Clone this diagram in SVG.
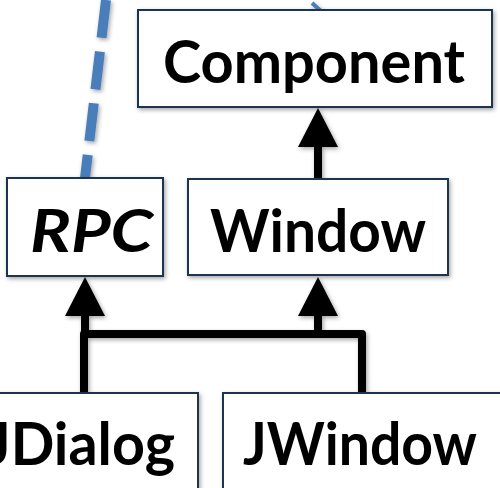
<svg xmlns="http://www.w3.org/2000/svg" width="500" height="488" viewBox="0 0 500 488">
<style>
.box{fill:#fff;stroke:#1f3550;stroke-width:2}
.lbl{font-family:Lato,"DejaVu Sans",sans-serif;font-size:60px;font-weight:bold;fill:#000}
.conn{fill:none;stroke:#000;stroke-width:8;stroke-linejoin:round}
.head{fill:#000}
.dash{fill:none;stroke:#4a7ebb;stroke-width:10}
</style>
<defs>
<filter id="sh" x="-10%" y="-10%" width="130%" height="130%">
<feDropShadow dx="1.5" dy="2" stdDeviation="2" flood-color="#000" flood-opacity="0.35"/>
</filter>
</defs>
<g id="connectors" filter="url(#sh)">
<path class="dash" d="M106,0 L85,178" stroke-dasharray="38,14"/>
<line x1="312" y1="3" x2="322" y2="12" stroke="#4a7ebb" stroke-width="4"/>
<path class="conn" d="M318,179 V145"/>
<polygon class="head" points="318,108 298,147 338,147"/>
<path class="conn" d="M84,392 V334 H362 V392"/>
<path class="conn" d="M85,334 V314"/>
<path class="conn" d="M318,334 V314"/>
<polygon class="head" points="85,277 65,316 105,316"/>
<polygon class="head" points="318,277 298,316 338,316"/>
</g>
<g id="component" filter="url(#sh)">
<rect class="box" x="138" y="10" width="354" height="97"/>
<text class="lbl" x="163" y="83" textLength="302" lengthAdjust="spacingAndGlyphs">Component</text>
</g>
<g id="rpc" filter="url(#sh)">
<rect class="box" x="7" y="178" width="156" height="98"/>
<text class="lbl" x="30" y="252" font-style="italic" textLength="123" lengthAdjust="spacingAndGlyphs">RPC</text>
</g>
<g id="window" filter="url(#sh)">
<rect class="box" x="188" y="179" width="260" height="96"/>
<text class="lbl" x="210" y="252" textLength="216" lengthAdjust="spacingAndGlyphs">Window</text>
</g>
<g id="jdialog" filter="url(#sh)">
<rect class="box" x="-10" y="393" width="208" height="110"/>
<text class="lbl" x="-14" y="465" textLength="189" lengthAdjust="spacingAndGlyphs">JDialog</text>
</g>
<g id="jwindow" filter="url(#sh)">
<rect class="box" x="223" y="393" width="290" height="110"/>
<text class="lbl" x="243" y="465" textLength="234" lengthAdjust="spacingAndGlyphs">JWindow</text>
</g>
</svg>
